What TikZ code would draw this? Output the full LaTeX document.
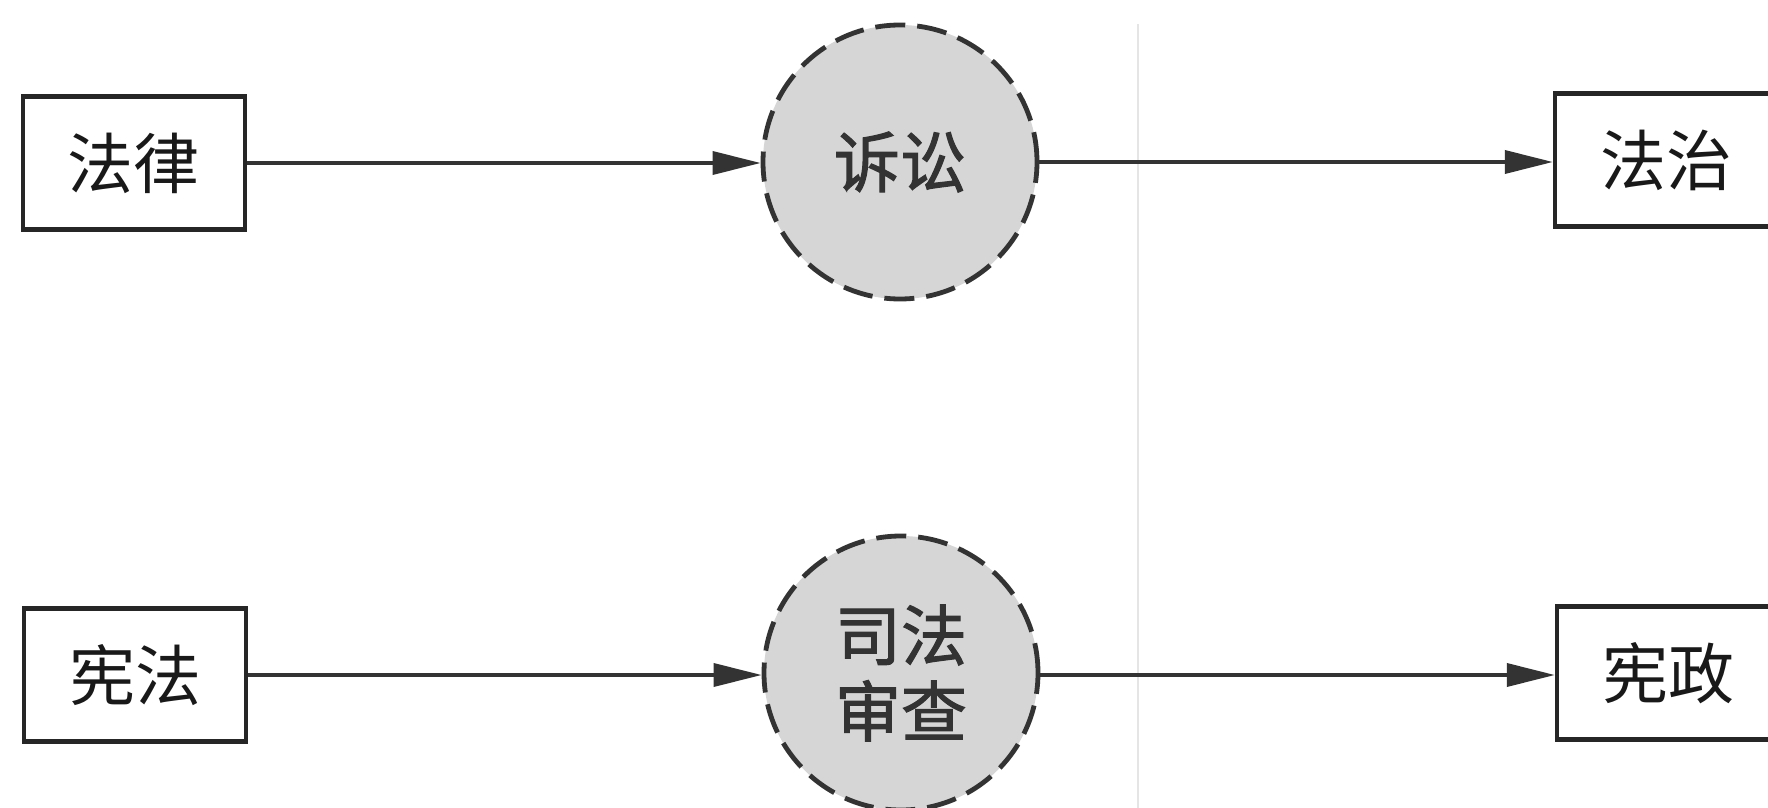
\documentclass[tikz,border=0pt]{standalone}
\usepackage{fontspec}
\newfontfamily\cjk{Noto Sans CJK SC}
\newfontfamily\cjkmed[FakeBold=1.6]{Noto Sans CJK SC}
\usetikzlibrary{arrows.meta}
\begin{document}
\begin{tikzpicture}[x=0.5pt,y=-0.5pt,
  termbox/.style={draw=black!85, line width=2.2pt, fill=white, minimum width=111pt, minimum height=66.5pt, inner sep=0pt, font=\cjk\fontsize{33}{36}\selectfont, text=black!90},
  procircle/.style={circle, draw=black!80, line width=2.4pt, dash pattern=on 15pt off 6pt, fill=black!16, minimum size=137pt, inner sep=0pt, font=\cjkmed\fontsize{33}{38}\selectfont, text=black!80, align=center},
  flow/.style={draw=black!80, line width=1.8pt, -{Triangle[length=24pt,width=11.5pt]}}]
\useasboundingbox (0,0) rectangle (1768,808);
\fill[white] (0,0) rectangle (1768,808);
\draw[black!10, line width=0.6pt] (1138,24) -- (1138,808);
\node[termbox] (law) at (134,163) {法律};
\node[procircle] (lit) at (900,162) {诉讼};
\node[termbox] (rule) at (1666,160) {法治};
\node[termbox] (con) at (135,675) {宪法};
\node[procircle] (jr) at (901,673) {司法\\审查};
\node[termbox] (cgov) at (1668,673) {宪政};
\draw[flow] (law.east |- 0,163) -- (lit.west |- 0,163);
\draw[flow] (lit.east |- 0,162) -- (rule.west |- 0,162);
\draw[flow] (con.east |- 0,675) -- (jr.west |- 0,675);
\draw[flow] (jr.east |- 0,675) -- (cgov.west |- 0,675);
\end{tikzpicture}
\end{document}
